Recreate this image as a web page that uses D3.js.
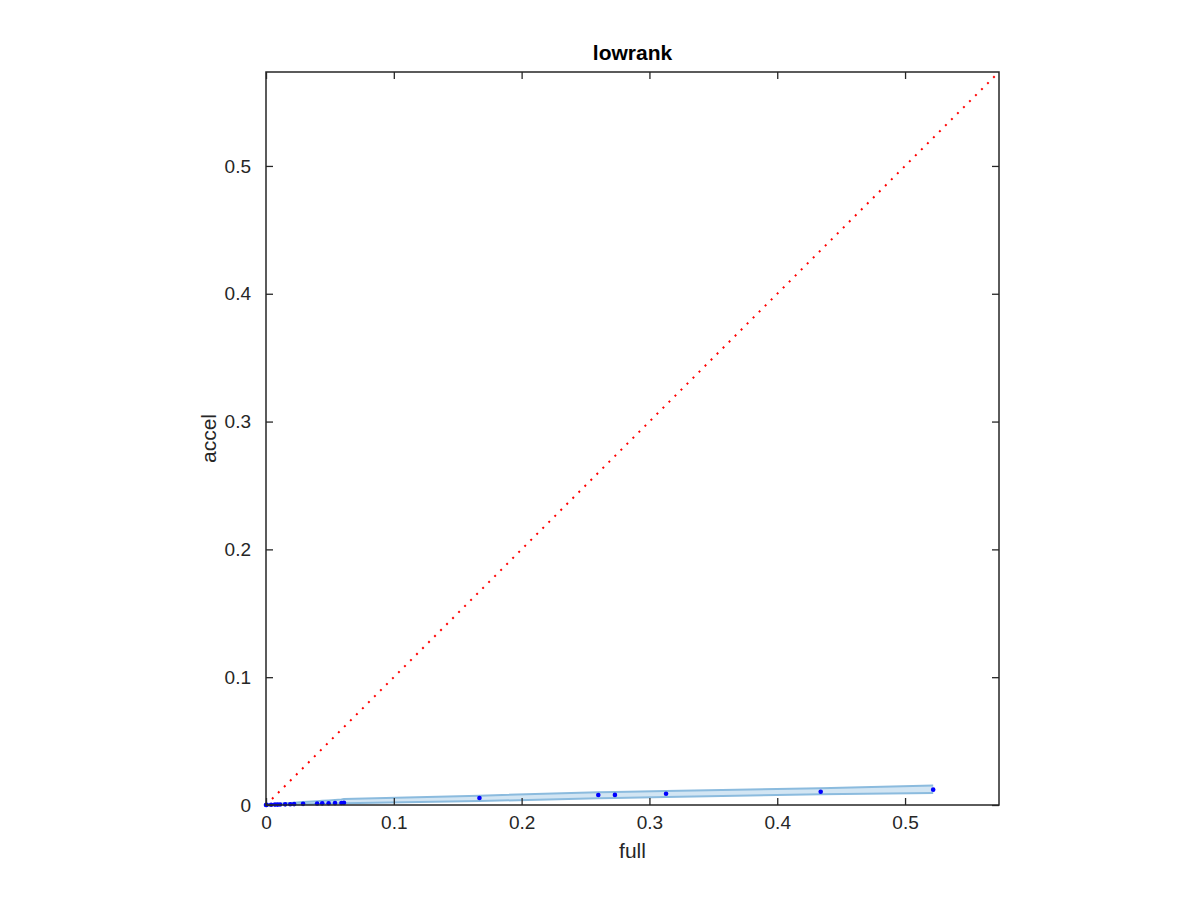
<!DOCTYPE html>
<html>
<head>
<meta charset="utf-8">
<script src="https://cdn.jsdelivr.net/npm/d3@7"></script>
<style>
  html, body { margin: 0; padding: 0; background: #fff; }
  text { font-family: "Liberation Sans", Helvetica, Arial, sans-serif; }
</style>
</head>
<body>
<svg id="chart" width="1200" height="900"></svg>
<script>
// ---- data ----
const fullValues  = [0, 0.0005, 0.004, 0.007, 0.009, 0.011, 0.015, 0.019, 0.022, 0.029, 0.040, 0.044, 0.049, 0.054, 0.059, 0.061, 0.167, 0.260, 0.273, 0.313, 0.434, 0.522];
const accelValues = [0, 0.0001, 0.0002, 0.0003, 0.0003, 0.0004, 0.0005, 0.0006, 0.0007, 0.0009, 0.0012, 0.0013, 0.0014, 0.0015, 0.0016, 0.0017, 0.0055, 0.0078, 0.0079, 0.0088, 0.0104, 0.0120];
const bandLower   = [0, 0.0000, 0.0001, 0.0001, 0.0002, 0.0002, 0.0003, 0.0004, 0.0004, 0.0005, 0.0008, 0.0009, 0.0010, 0.0011, 0.0012, 0.0013, 0.0031, 0.0052, 0.0054, 0.0062, 0.0085, 0.0094];
const bandUpper   = [0.0003, 0.0004, 0.0006, 0.0008, 0.0009, 0.0010, 0.0013, 0.0016, 0.0018, 0.0023, 0.0030, 0.0033, 0.0036, 0.0040, 0.0044, 0.0047, 0.0073, 0.0100, 0.0102, 0.0110, 0.0132, 0.0152];
const xTicks = [0, 0.1, 0.2, 0.3, 0.4, 0.5];
const yTicks = [0, 0.1, 0.2, 0.3, 0.4, 0.5];
const axisMax = 0.5735;
const titleText = "lowrank";
const xLabelText = "full";
const yLabelText = "accel";

// ---- layout ----
const mLeft = 266, mRight = 999, mTop = 72, mBottom = 805;
const svg = d3.select("#chart");
const x = d3.scaleLinear().domain([0, axisMax]).range([mLeft, mRight]);
const y = d3.scaleLinear().domain([0, axisMax]).range([mBottom, mTop]);
const axisColor = "#262626";

// band
const band = fullValues.map((v, i) => ({x: v, lo: bandLower[i], hi: bandUpper[i]}));
svg.append("path")
  .datum(band)
  .attr("fill", "#d2e5f3")
  .attr("d", d3.area().x(d => x(d.x)).y0(d => y(d.lo)).y1(d => y(d.hi)));
[ "lo", "hi" ].forEach(k => {
  svg.append("path")
    .datum(band)
    .attr("fill", "none")
    .attr("stroke", "#8bbbde")
    .attr("stroke-width", 2)
    .attr("d", d3.line().x(d => x(d.x)).y(d => y(d[k])));
});

// diagonal
svg.append("line")
  .attr("x1", x(0)).attr("y1", y(0))
  .attr("x2", x(axisMax)).attr("y2", y(axisMax))
  .attr("stroke", "#ff0000")
  .attr("stroke-width", 2)
  .attr("stroke-dasharray", "2,6.5");

// points
svg.append("g").selectAll("circle")
  .data(fullValues.map((v, i) => ({x: v, y: accelValues[i]})))
  .join("circle")
  .attr("cx", d => x(d.x))
  .attr("cy", d => y(d.y))
  .attr("r", 2.3)
  .attr("fill", "#0000ff");

// axes (box with inward ticks)
const tickLen = 7;
const gx = svg.append("g").attr("transform", `translate(0,${mBottom})`)
  .call(d3.axisBottom(x).tickValues(xTicks).tickFormat(d3.format("")).tickSizeInner(-tickLen).tickSizeOuter(0).tickPadding(11));
const gxTop = svg.append("g").attr("transform", `translate(0,${mTop})`)
  .call(d3.axisTop(x).tickValues(xTicks).tickFormat("").tickSizeInner(-tickLen).tickSizeOuter(0));
const gy = svg.append("g").attr("transform", `translate(${mLeft},0)`)
  .call(d3.axisLeft(y).tickValues(yTicks).tickFormat(d3.format("")).tickSizeInner(-tickLen).tickSizeOuter(0).tickPadding(15));
const gyR = svg.append("g").attr("transform", `translate(${mRight},0)`)
  .call(d3.axisRight(y).tickValues(yTicks).tickFormat("").tickSizeInner(-tickLen).tickSizeOuter(0));

[gx, gxTop, gy, gyR].forEach(g => {
  g.select(".domain").remove();
  g.selectAll(".tick line").attr("stroke", axisColor).attr("stroke-width", 1.3);
  g.selectAll(".tick text").attr("fill", axisColor).attr("font-size", 19)
    .attr("font-family", "'Liberation Sans', Helvetica, Arial, sans-serif");
});

svg.append("rect")
  .attr("x", mLeft).attr("y", mTop)
  .attr("width", mRight - mLeft).attr("height", mBottom - mTop)
  .attr("fill", "none").attr("stroke", axisColor).attr("stroke-width", 1.5);

// labels
svg.append("text").attr("x", (mLeft + mRight) / 2).attr("y", 60)
  .attr("text-anchor", "middle").attr("font-size", 21).attr("font-weight", "bold")
  .attr("fill", "#000").text(titleText);
svg.append("text").attr("x", (mLeft + mRight) / 2).attr("y", 858)
  .attr("text-anchor", "middle").attr("font-size", 21).attr("fill", axisColor).text(xLabelText);
svg.append("text")
  .attr("transform", `translate(216,${(mTop + mBottom) / 2}) rotate(-90)`)
  .attr("text-anchor", "middle").attr("font-size", 21).attr("fill", axisColor).text(yLabelText);
</script>
</body>
</html>
